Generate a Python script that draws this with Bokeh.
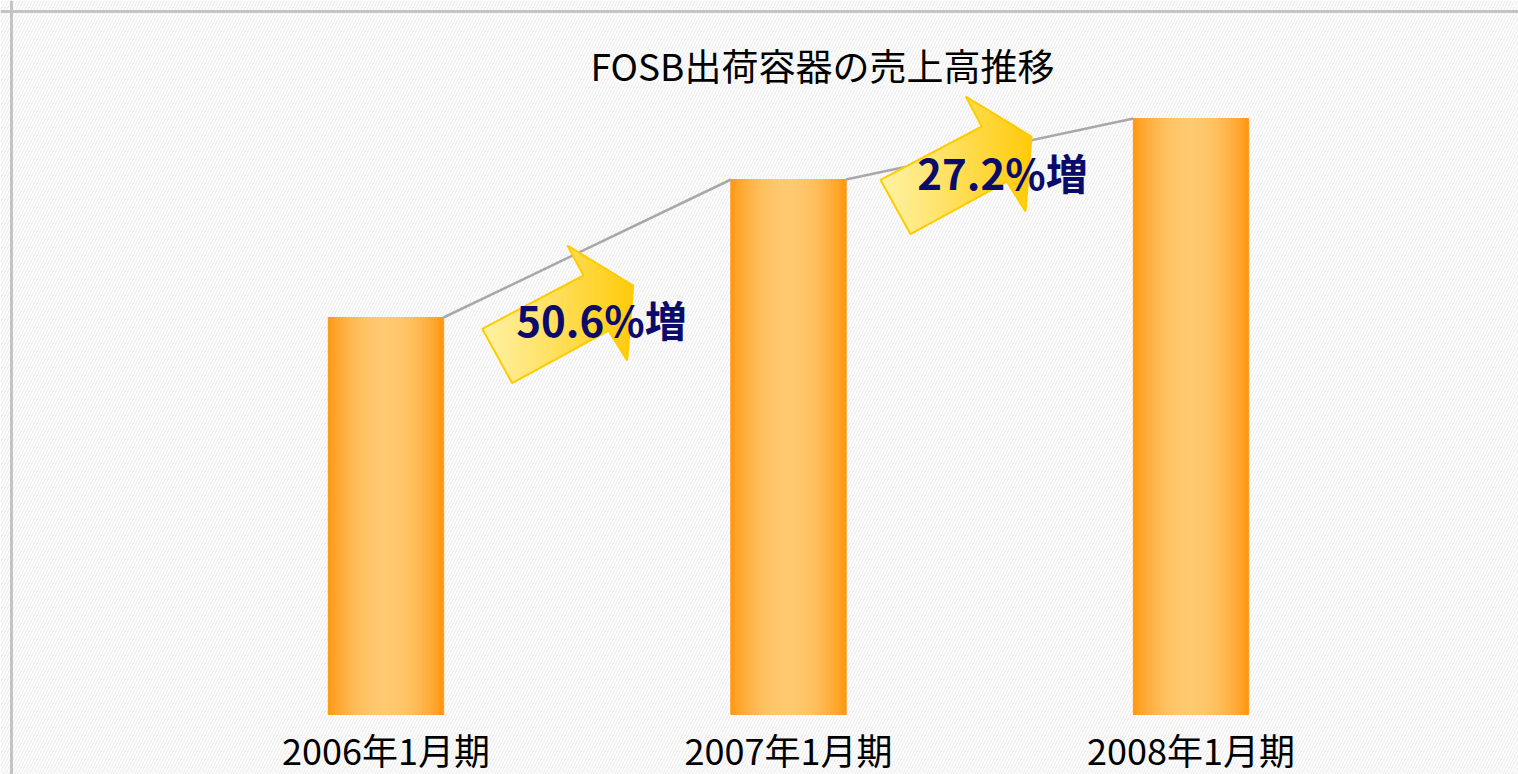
import math
from bokeh.plotting import figure
from bokeh.models import ColumnDataSource, BoxAnnotation, Span
from bokeh.core.properties import value
from bokeh.embed import file_html
from bokeh.resources import INLINE

# ---------------- data ----------------
categories = ["2006年1月期", "2007年1月期", "2008年1月期"]
sales = [397, 535, 596]            # relative bar heights as drawn (no value axis shown)
growth_labels = ["50.6%増", "27.2%増"]
title_text = "FOSB出荷容器の売上高推移"

# ---------------- layout (pixels) ----------------
W, H = 1518, 774
SX = 402.5                  # px per category step
XS = -385.5 / SX            # x range start
XE = XS + W / SX
Y0_PX = 714                 # pixel row of value 0
YS = -(H - Y0_PX)
YE = Y0_PX
BAR_W = 115 / SX

def px_x(px):
    return XS + px / SX

def px_y(py):
    return Y0_PX - py

FONT = value("Noto Sans CJK JP")

p = figure(width=W, height=H, x_range=(XS, XE), y_range=(YS, YE),
           output_backend="svg", toolbar_location=None,
           min_border_left=0, min_border_right=0, min_border_top=0, min_border_bottom=0)
p.xaxis.visible = False
p.yaxis.visible = False
p.xgrid.visible = False
p.ygrid.visible = False
p.outline_line_color = None
p.background_fill_color = "white"
p.border_fill_color = "white"

# hatched background
bg = BoxAnnotation(left=XS, right=XE, bottom=YS, top=YE, fill_color="white", fill_alpha=1,
                   line_color=None, hatch_pattern="/", hatch_color="#efefef",
                   hatch_scale=6, hatch_weight=1.3, level="underlay")
p.add_layout(bg)

# border (top and left only visible in the reference)
p.add_layout(Span(location=px_x(11), dimension="height", line_color="#c4c4c4", line_width=3))
p.add_layout(Span(location=px_y(11), dimension="width", line_color="#c4c4c4", line_width=3))

# ---------------- gradient bars ----------------
N = 48
dark = (255, 150, 14)
light = (255, 201, 112)
sx, stop, sw, sc = [], [], [], []
for i, v in enumerate(sales):
    for k in range(N):
        t = (k + 0.5) / N
        f = math.sin(math.pi * t) ** 0.8
        c = tuple(int(round(dark[j] + (light[j] - dark[j]) * f)) for j in range(3))
        sx.append(i - BAR_W / 2 + t * BAR_W)
        stop.append(v)
        sw.append(BAR_W / N * 1.15)
        sc.append("#%02x%02x%02x" % c)
p.vbar(x="x", top="top", width="w", bottom=0, color="c",
       source=ColumnDataSource(dict(x=sx, top=stop, w=sw, c=sc)))

# connector lines between bar tops
p.segment(x0=[i + BAR_W / 2 for i in range(len(sales) - 1)], y0=sales[:-1],
          x1=[i + 1 - BAR_W / 2 for i in range(len(sales) - 1)], y1=sales[1:],
          line_color="#a8a8a8", line_width=2.5)

# ---------------- arrows ----------------
ARROW_SHAPE = [(0, 0), (101.3, -53.3), (85.3, -83.3), (151, -43.3),
               (145, 31.7), (126.3, 1.7), (30, 54.4)]
ARROW_POS = [(481.7, 328.3), (880, 179.3)]

def clip(poly, xv, keep_greater):
    out = []
    n = len(poly)
    for a in range(n):
        P, Q = poly[a], poly[(a + 1) % n]
        inP = P[0] >= xv if keep_greater else P[0] <= xv
        inQ = Q[0] >= xv if keep_greater else Q[0] <= xv
        if inP:
            out.append(P)
        if inP != inQ:
            t = (xv - P[0]) / (Q[0] - P[0])
            out.append((xv, P[1] + t * (Q[1] - P[1])))
    return out

c_tail = (255, 243, 168)
c_head = (255, 202, 10)
axs, ays, acs = [], [], []
oxs, oys = [], []
for ax, ay in ARROW_POS:
    poly = [(ax + dx, ay + dy) for dx, dy in ARROW_SHAPE]
    xmin = min(q[0] for q in poly)
    xmax = max(q[0] for q in poly)
    M = 40
    for k in range(M):
        a = xmin + (xmax - xmin) * k / M
        b = xmin + (xmax - xmin) * (k + 1) / M + 0.6
        sl = clip(clip(poly, a, True), b, False)
        if len(sl) < 3:
            continue
        t = (k + 0.5) / M
        c = tuple(int(round(c_tail[j] + (c_head[j] - c_tail[j]) * t)) for j in range(3))
        axs.append([px_x(q[0]) for q in sl])
        ays.append([px_y(q[1]) for q in sl])
        acs.append("#%02x%02x%02x" % c)
    oxs.append([px_x(q[0]) for q in poly])
    oys.append([px_y(q[1]) for q in poly])
p.patches(xs="xs", ys="ys", fill_color="c", line_color=None,
          source=ColumnDataSource(dict(xs=axs, ys=ays, c=acs)))
p.patches(xs=oxs, ys=oys, fill_color=None, line_color="#ffcc00", line_width=2)

# growth labels
GL_POS = [(601, 318), (1002, 171)]
p.text(x=[px_x(q[0]) for q in GL_POS], y=[px_y(q[1]) for q in GL_POS], text=growth_labels,
       text_font=FONT, text_font_size="42px", text_font_style="bold", text_color="#0b0b6b",
       text_align="center", text_baseline="middle")

# category labels
p.text(x=list(range(len(categories))), y=[px_y(748)] * len(categories), text=categories,
       text_font=FONT, text_font_size="36px", text_color="black",
       text_align="center", text_baseline="middle")

# title
p.text(x=[px_x(822)], y=[px_y(64)], text=[title_text], text_font=FONT,
       text_font_size="37px", text_color="black", text_align="center", text_baseline="middle")

open("out.html", "w").write(file_html(p, INLINE))
